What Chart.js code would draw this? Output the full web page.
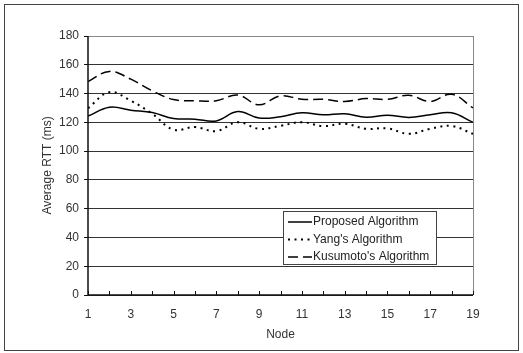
<!DOCTYPE html>
<html>
<head>
<meta charset="utf-8">
<script src="https://cdn.jsdelivr.net/npm/chart.js@4/dist/chart.umd.min.js"></script>
<style>
  html, body { margin: 0; padding: 0; background: #fff; }
  #wrap { position: relative; width: 523px; height: 353px; }
  canvas { display: block; }
</style>
</head>
<body>
<div id="wrap"><canvas id="c" width="523" height="353"></canvas></div>
<script>
// Average round-trip time per node for three routing algorithms
const nodes = [1,2,3,4,5,6,7,8,9,10,11,12,13,14,15,16,17,18,19];
const proposed  = [124.3,130.5,128.4,126.8,122.7,122.2,121.0,127.5,123.0,123.9,126.6,125.2,126.0,123.6,125.0,123.4,125.2,126.6,120.0];
const yang      = [129.8,141.0,135.0,126.0,114.9,116.7,113.9,120.1,115.5,117.6,120.1,117.4,119.0,115.5,115.8,112.0,115.5,117.4,112.0];
const kusumoto  = [148.3,155.4,150.0,142.0,135.8,135.0,135.0,139.0,132.2,138.4,136.0,136.0,134.5,136.5,136.0,138.8,134.5,139.5,130.0];
const seriesNames = ["Proposed Algorithm", "Yang's Algorithm", "Kusumoto's Algorithm"];
const yTicks = [0,20,40,60,80,100,120,140,160,180];

const FONT = "'Liberation Sans', Arial, sans-serif";

function pts(vals) { return nodes.map((n, i) => ({ x: n, y: vals[i] })); }

// Frame around the whole figure, inward x ticks and the boxed legend
const decor = {
  id: 'decor',
  beforeDraw(chart) {
    const ctx = chart.ctx;
    ctx.save();
    ctx.fillStyle = '#fff';
    ctx.fillRect(0, 0, chart.width, chart.height);
    ctx.strokeStyle = '#444';
    ctx.lineWidth = 1;
    ctx.strokeRect(4.5, 4.5, 514, 346);
    ctx.restore();
  },
  afterDatasetsDraw(chart) {
    const ctx = chart.ctx;
    const x = chart.scales.x;
    const a = chart.chartArea;
    ctx.save();
    // right border of the plot
    ctx.strokeStyle = '#888';
    ctx.lineWidth = 1;
    ctx.beginPath();
    ctx.moveTo(Math.round(a.right) + 0.5, a.top);
    ctx.lineTo(Math.round(a.right) + 0.5, a.bottom);
    ctx.stroke();
    // axes
    ctx.strokeStyle = '#111';
    ctx.lineWidth = 1.5;
    ctx.beginPath();
    ctx.moveTo(a.left, a.top);
    ctx.lineTo(a.left, a.bottom);
    ctx.lineTo(a.right, a.bottom);
    ctx.stroke();
    // inward tick marks at every node
    ctx.lineWidth = 1;
    ctx.beginPath();
    nodes.forEach(n => {
      const px = Math.round(x.getPixelForValue(n)) + 0.5;
      ctx.moveTo(px, a.bottom);
      ctx.lineTo(px, a.bottom - 4);
    });
    ctx.stroke();

    // legend box
    const bx = 283, by = 211, bw = 153, bh = 53;
    ctx.fillStyle = '#fff';
    ctx.fillRect(bx, by, bw, bh);
    ctx.strokeStyle = '#444';
    ctx.lineWidth = 1;
    ctx.strokeRect(bx + 0.5, by + 0.5, bw, bh);
    ctx.font = '12px ' + FONT;
    ctx.textBaseline = 'middle';
    chart.data.datasets.forEach((ds, i) => {
      const ry = by + 11 + i * 17.5;
      ctx.strokeStyle = '#000';
      ctx.lineWidth = ds.borderWidth;
      ctx.setLineDash(ds.borderDash || []);
      ctx.beginPath();
      ctx.moveTo(288, ry);
      ctx.lineTo(312, ry);
      ctx.stroke();
      ctx.setLineDash([]);
      ctx.fillStyle = '#222';
      ctx.fillText(ds.label, 313, ry);
    });
    ctx.restore();
  }
};

new Chart(document.getElementById('c'), {
  type: 'line',
  data: {
    datasets: [
      { label: seriesNames[0], data: pts(proposed), borderColor: '#000', borderWidth: 1.5, tension: 0.4, pointRadius: 0 },
      { label: seriesNames[1], data: pts(yang), borderColor: '#000', borderWidth: 2, borderDash: [2, 4.5], tension: 0.4, pointRadius: 0 },
      { label: seriesNames[2], data: pts(kusumoto), borderColor: '#000', borderWidth: 1.5, borderDash: [10, 5], tension: 0.4, pointRadius: 0 }
    ]
  },
  options: {
    responsive: false,
    animation: false,
    events: [],
    layout: { padding: { left: 40, top: 36, right: 50, bottom: 11 } },
    plugins: { legend: { display: false }, tooltip: { enabled: false } },
    scales: {
      x: {
        type: 'linear',
        min: 1, max: 19,
        afterBuildTicks(scale) {
          scale.ticks = nodes.filter(n => n % 2 === 1).map(v => ({ value: v }));
        },
        afterFit(scale) { scale.height = 47; },
        grid: { display: false, drawTicks: false },
        border: { display: false },
        ticks: {
          padding: 12,
          color: '#333',
          font: { family: FONT, size: 12 },
          maxRotation: 0,
          autoSkip: false
        },
        title: {
          display: true, text: 'Node', color: '#333',
          font: { family: FONT, size: 12 },
          padding: { top: 4, bottom: 0 }
        }
      },
      y: {
        min: 0, max: 180,
        afterBuildTicks(scale) {
          scale.ticks = yTicks.map(v => ({ value: v }));
        },
        afterFit(scale) { scale.width = 48; },
        grid: {
          color: ctx => (ctx.tick && ctx.tick.value === 180) ? '#888' : '#333',
          lineWidth: 1,
          drawTicks: true,
          tickLength: 4,
          tickColor: '#111'
        },
        border: { display: false },
        ticks: {
          padding: 5,
          color: '#333',
          font: { family: FONT, size: 12 }
        },
        title: {
          display: true, text: 'Average RTT (ms)', color: '#333',
          font: { family: FONT, size: 12 },
          padding: { top: 0, bottom: 0 }
        }
      }
    }
  },
  plugins: [decor]
});
</script>
</body>
</html>
